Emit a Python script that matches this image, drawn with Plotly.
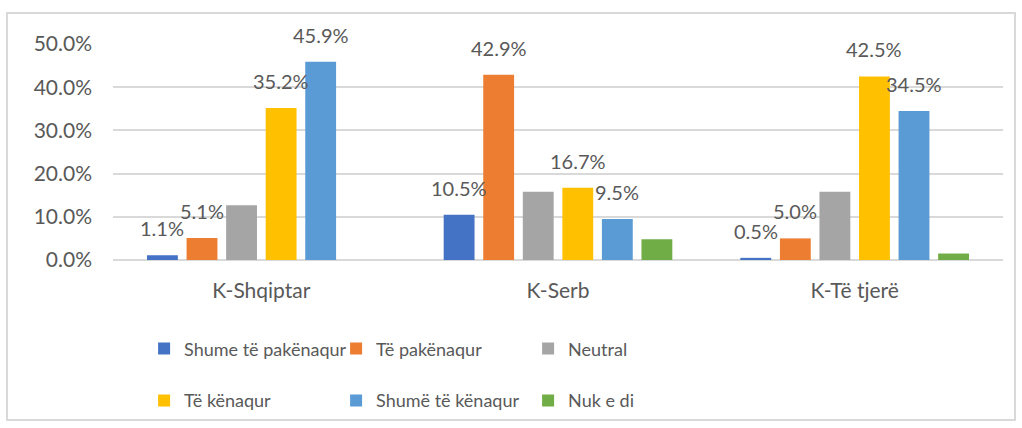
import plotly.graph_objects as go

categories = ['K-Shqiptar', 'K-Serb', 'K-Të tjerë']
series_names = ['Shume të pakënaqur', 'Të pakënaqur', 'Neutral',
                'Të kënaqur', 'Shumë të kënaqur', 'Nuk e di']
shume_te_pakenaqur = [0.011, 0.105, 0.005]
te_pakenaqur = [0.051, 0.429, 0.050]
neutral = [0.127, 0.158, 0.158]
te_kenaqur = [0.352, 0.167, 0.425]
shume_te_kenaqur = [0.459, 0.095, 0.345]
nuk_e_di = [0.0, 0.048, 0.015]
show_labels = [True, True, False, True, True, False]

values = [shume_te_pakenaqur, te_pakenaqur, neutral, te_kenaqur, shume_te_kenaqur, nuk_e_di]
colors = ['#4472C4', '#ED7D31', '#A5A5A5', '#FFC000', '#5B9BD5', '#70AD47']
font_family = 'Lato, Carlito, Calibri, sans-serif'
text_color = '#595959'

W, H = 1022, 428
ML, MR, MT, MB = 113, 19, 44, 168
BARGAP = 0.2

fig = go.Figure()
for i, (name, vals) in enumerate(zip(series_names, values)):
    fig.add_trace(go.Bar(
        name=name, x=categories, y=vals,
        marker=dict(color=colors[i], line=dict(width=0)),
        legend='legend' if i < 3 else 'legend2',
    ))

# data labels above the bars (Excel style, with a gap)
slot = (W - ML - MR) / len(categories) * (1 - BARGAP) / len(series_names)
annotations = []
for i, vals in enumerate(values):
    if not show_labels[i]:
        continue
    for cat, v in zip(categories, vals):
        annotations.append(dict(
            x=cat, y=v, xref='x', yref='y', text=f'{v:.1%}', showarrow=False,
            xshift=(i - (len(series_names) - 1) / 2) * slot, yshift=27,
            yanchor='middle', font=dict(size=20, color=text_color, family=font_family)))

legend_style = dict(orientation='h', xanchor='left', yanchor='top',
                    xref='container', yref='container',
                    entrywidth=147, entrywidthmode='pixels',
                    font=dict(size=18, color=text_color, family=font_family),
                    bgcolor='rgba(0,0,0,0)', itemclick=False)

fig.update_layout(
    width=W, height=H,
    margin=dict(l=ML, r=MR, t=MT, b=MB, autoexpand=False),
    paper_bgcolor='white', plot_bgcolor='white',
    barmode='group', bargap=BARGAP, bargroupgap=0.22,
    font=dict(family=font_family, color=text_color),
    legend=dict(x=0.141, y=0.228, **legend_style),
    legend2=dict(x=0.141, y=0.107, **legend_style),
    xaxis=dict(showgrid=False, showline=False, ticks='', automargin=False,
               tickfont=dict(size=21, color=text_color),
               ticklabelstandoff=16),
    yaxis=dict(range=[0, 0.5], dtick=0.1, tickformat='.1%', automargin=False,
               gridcolor='#D9D9D9', gridwidth=2,
               zeroline=True, zerolinecolor='#D9D9D9', zerolinewidth=2,
               showline=False, ticks='', ticklabelstandoff=20,
               tickfont=dict(size=21, color=text_color)),
    annotations=annotations,
    shapes=[dict(type='rect', xref='paper', yref='paper',
                 x0=-106 / 890, x1=1 + 12 / 890, y0=-160 / 216, y1=1 + 31 / 216,
                 line=dict(color='#D9D9D9', width=2), layer='below')],
)

fig.write_html('out.html', config={'displayModeBar': False},
               post_script="document.body.style.margin='0';")
